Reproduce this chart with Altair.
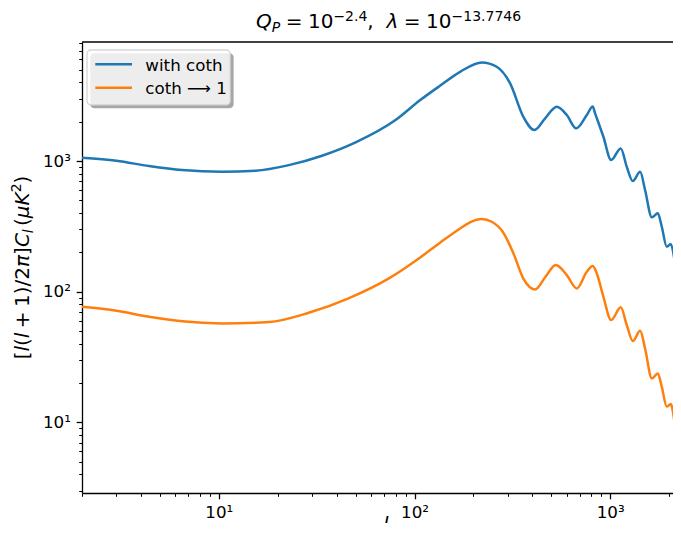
import altair as alt
import pandas as pd

# ---------------- data ----------------
series_names = ["with coth", "coth ⟶ 1"]
series_colors = ["#1f77b4", "#ff7f0e"]

l_coth = [2, 3, 4.4, 6.5, 10.4, 15.4, 22.8, 33.7, 50, 80, 107, 135, 171, 221, 263,
          308, 360, 410, 465, 533, 600, 670, 759, 814, 837, 923, 1011, 1132, 1215,
          1305, 1422, 1507, 1632, 1750, 1835, 1945, 2040, 2146, 2258]
cl_coth = [1060, 1005, 916, 853, 828, 843, 931, 1098, 1390, 2060, 2930, 3770, 4820,
           5690, 5270, 3930, 2180, 1727, 2120, 2600, 2250, 1780, 2250, 2610, 2320,
           1535, 1018, 1250, 905, 703, 828, 600, 371, 398, 314, 221, 232, 165, 109]

l_one = [2, 3, 4.4, 6.5, 10.4, 18, 28.8, 46, 74, 107, 135, 171, 192, 221, 248, 284,
         320, 360, 413, 470, 527, 600, 675, 759, 814, 854, 923, 1011, 1132, 1215,
         1305, 1422, 1507, 1632, 1750, 1835, 1945, 2040, 2146, 2258]
cl_one = [76.7, 71.5, 64.3, 59.3, 57.2, 58.6, 69, 89, 126.6, 183, 237, 305, 340, 360,
          343, 284, 197, 126, 104, 132, 160, 134, 106, 142, 157, 138, 91.5, 60.7,
          75.9, 55.6, 41.9, 50.2, 36.8, 21.7, 23.7, 18.7, 13.2, 13.8, 9.5, 6.1]

x_tick_values = [2, 3, 4, 5, 6, 7, 8, 9, 10, 20, 30, 40, 50, 60, 70, 80, 90,
                 100, 200, 300, 400, 500, 600, 700, 800, 900, 1000, 2000]
y_tick_values = [3, 4, 5, 6, 7, 8, 9, 10, 20, 30, 40, 50, 60, 70, 80, 90,
                 100, 200, 300, 400, 500, 600, 700, 800, 900, 1000,
                 2000, 3000, 4000, 5000, 6000, 7000, 8000]
major_ticks = [10, 100, 1000]
major_labels = ["10¹", "10²", "10³"]

df = pd.concat([
    pd.DataFrame({"l": l_coth, "v": cl_coth, "series": series_names[0]}),
    pd.DataFrame({"l": l_one, "v": cl_one, "series": series_names[1]}),
], ignore_index=True)

# ---------------- layout / style ----------------
FONT = "DejaVu Sans"
W, H = 599, 451
TICK_FS = 16.7
BIG_FS = 20

major_test = "indexof([%s], datum.value) >= 0" % ",".join(str(v) for v in major_ticks)
label_expr = " : ".join(
    "datum.value == %d ? '%s'" % (v, s) for v, s in zip(major_ticks, major_labels)
) + " : ''"


def make_axis(values):
    return alt.Axis(
        values=values, labelExpr=label_expr, title=None, grid=False,
        tickSize={"condition": {"test": major_test, "value": 5.8}, "value": 3.3},
        tickWidth={"condition": {"test": major_test, "value": 1.3}, "value": 1.0},
        tickColor="black", domainColor="black", domainWidth=1.3,
        labelFont=FONT, labelFontSize=TICK_FS, labelColor="black",
        labelPadding=5.8, labelOverlap=False, labelFlush=False, labelBound=False,
    )


lines = alt.Chart(df).mark_line(strokeWidth=2.5, interpolate="monotone", clip=True).encode(
    x=alt.X("l:Q", scale=alt.Scale(type="log", domain=[2, 2300]), axis=make_axis(x_tick_values)),
    y=alt.Y("v:Q", scale=alt.Scale(type="log", domain=[2.88, 8150]), axis=make_axis(y_tick_values)),
    color=alt.Color("series:N", scale=alt.Scale(domain=series_names, range=series_colors), legend=None),
    order=alt.Order("l:Q"),
)


def one():
    return pd.DataFrame({"a": [0]})


top_spine = alt.Chart(one()).mark_rule(color="black", strokeWidth=1.3).encode(
    x=alt.value(0), x2=alt.value(W), y=alt.value(0))

# legend (matplotlib style, with shadow)
lx0, ly0, lx1, ly1 = 5, 8, 148.3, 63
shadow = alt.Chart(one()).mark_rect(color="#a6a6a6", cornerRadius=4).encode(
    x=alt.value(lx0 + 3.3), x2=alt.value(lx1 + 3.3), y=alt.value(ly0 + 3.3), y2=alt.value(ly1 + 3.3))
box = alt.Chart(one()).mark_rect(fill="white", fillOpacity=0.8, stroke="#cccccc",
                                 strokeOpacity=0.8, strokeWidth=1.3, cornerRadius=4).encode(
    x=alt.value(lx0), x2=alt.value(lx1), y=alt.value(ly0), y2=alt.value(ly1))
legend_layers = []
for i, (name, col) in enumerate(zip(series_names, series_colors)):
    yc = 22.3 + i * 23.4
    legend_layers.append(alt.Chart(one()).mark_rule(color=col, strokeWidth=2.5).encode(
        x=alt.value(13.3), x2=alt.value(50), y=alt.value(yc)))
    legend_layers.append(alt.Chart(pd.DataFrame({"t": [name]})).mark_text(
        align="left", baseline="alphabetic", font=FONT, fontSize=TICK_FS, color="black").encode(
        text="t:N", x=alt.value(63.3), y=alt.value(yc + 6.5)))

# rich text helper (mathtext-like pieces)
WIDTHS = {" ": 0.318, ".": 0.318, ",": 0.318, "=": 0.838, "+": 0.838, "−": 0.838,
          "(": 0.390, ")": 0.390, "[": 0.390, "]": 0.390, "/": 0.337, "Q": 0.787,
          "P": 0.603, "C": 0.698, "K": 0.656, "l": 0.278, "λ": 0.592, "π": 0.602,
          "μ": 0.636}
for d in "0123456789":
    WIDTHS[d] = 0.636


def text_width(s, size):
    return sum(WIDTHS.get(c, 0.6) for c in s) * size


def rich_text(pieces, x0, y0, F, vertical=False, sup=0.4):
    out = []
    s = 0.0
    for txt, style, level, gap in pieces:
        s += gap * F
        size = F if level == "base" else 0.7 * F
        shift = {"base": 0.0, "sup": sup * F, "sub": -0.2 * F}[level]
        if vertical:
            x, y, ang = x0 - shift, y0 - s, 270
        else:
            x, y, ang = x0 + s, y0 - shift, 0
        out.append(alt.Chart(pd.DataFrame({"t": [txt]})).mark_text(
            align="left", baseline="alphabetic", font=FONT, fontSize=size,
            fontStyle=style, angle=ang, color="black").encode(
            text="t:N", x=alt.value(x), y=alt.value(y)))
        s += text_width(txt, size)
    return out


title_pieces = [("Q", "italic", "base", 0), ("P", "italic", "sub", 0),
                ("=", "normal", "base", 0.275), ("10", "normal", "base", 0.275),
                ("−2.4", "normal", "sup", 0), (",", "normal", "base", 0),
                ("λ", "italic", "base", 0.636), ("=", "normal", "base", 0.275),
                ("10", "normal", "base", 0.275), ("−13.7746", "normal", "sup", 0)]
ylab_pieces = [("[", "normal", "base", 0), ("l", "italic", "base", 0),
               ("(", "normal", "base", 0), ("l", "italic", "base", 0),
               ("+", "normal", "base", 0.222), ("1", "normal", "base", 0.222),
               (")", "normal", "base", 0), ("/", "normal", "base", 0),
               ("2", "normal", "base", 0), ("π", "italic", "base", 0),
               ("]", "normal", "base", 0), ("C", "italic", "base", 0),
               ("l", "italic", "sub", 0), ("(", "normal", "base", 0.167),
               ("μ", "italic", "base", 0), ("K", "italic", "base", 0),
               ("2", "normal", "sup", 0), (")", "normal", "base", 0)]

title_layers = rich_text(title_pieces, 174, -14, BIG_FS, sup=0.36)
ylab_layers = rich_text(ylab_pieces, -53.5, 317.3, BIG_FS, vertical=True)
xlab_layers = rich_text([("l", "italic", "base", 0)], 301, 489, BIG_FS)

chart = alt.layer(
    lines, top_spine, shadow, box, *legend_layers, *title_layers, *ylab_layers, *xlab_layers
).properties(
    width=W, height=H,
    autosize=alt.AutoSizeParams(type="none"),
    padding={"left": 74, "top": 34, "right": -8, "bottom": 30},
).configure_view(stroke=None)

chart.save("out.html", embed_options={"renderer": "svg", "actions": False})
